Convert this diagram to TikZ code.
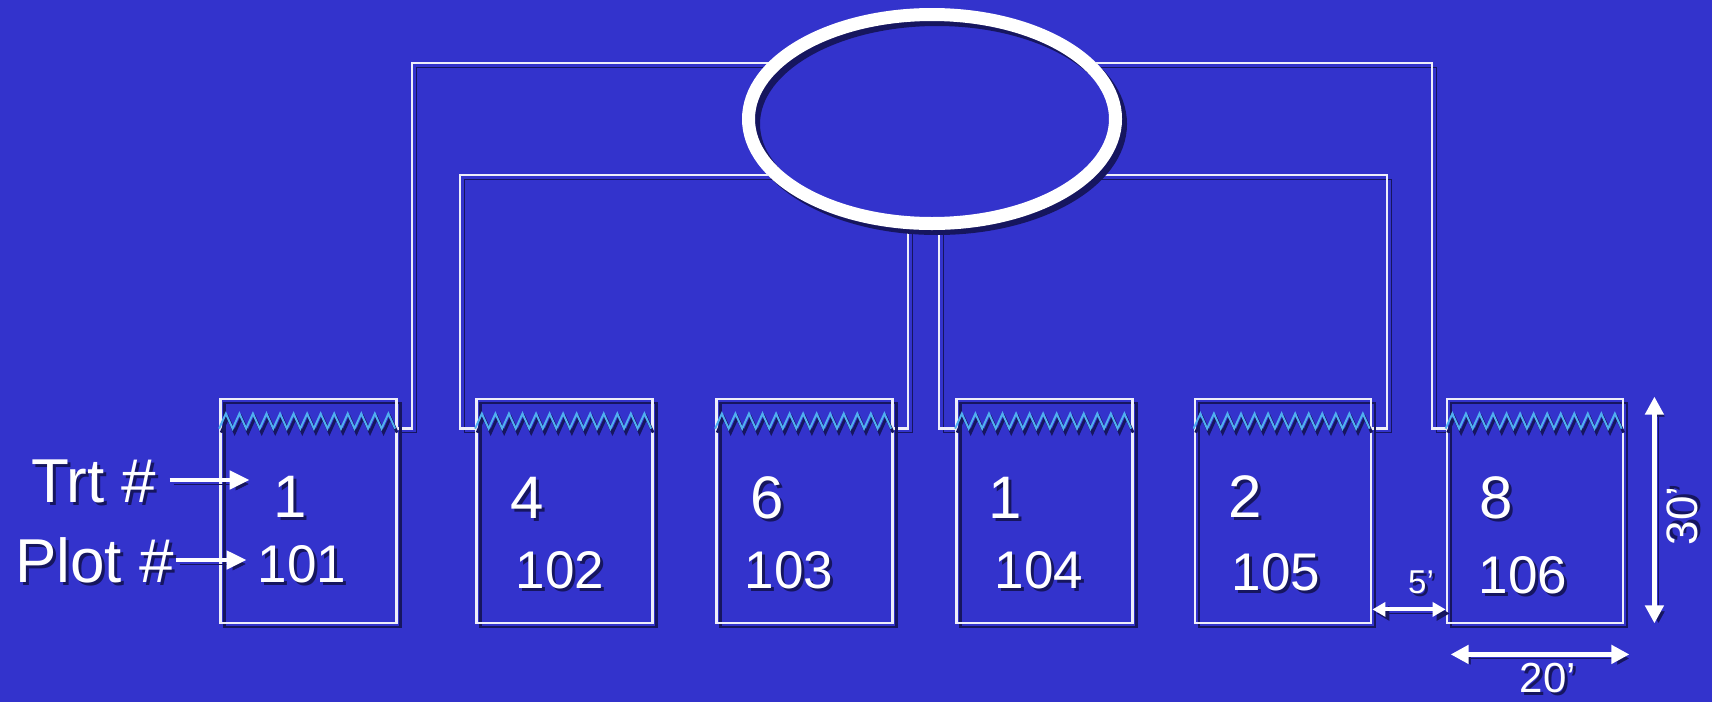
\documentclass[tikz,border=0pt]{standalone}
\usepackage{fontspec}
\setmainfont{Liberation Sans}
\usetikzlibrary{shapes.geometric,arrows.meta,calc}
\pgfdeclarelayer{back}
\pgfsetlayers{back,main}
\definecolor{bg}{RGB}{51,51,204}
\definecolor{shc}{RGB}{22,22,95}
\definecolor{ln}{RGB}{238,238,250}
\definecolor{zz}{RGB}{80,175,240}
\newcommand\shtxt[1]{\makebox[0pt][l]{\hspace{3pt}\raisebox{-3pt}{\textcolor{shc}{#1}}}#1}
\begin{document}
\begin{tikzpicture}[x=1pt,y=-1pt,
 shad/.style={preaction={draw=shc,transform canvas={xshift=4pt,yshift=-4pt}}},
 conn/.style={draw=ln,line width=2.8pt,shad},
 plotbox/.style={rectangle,draw=ln,line width=2.8pt,minimum width=176pt,minimum height=224pt,inner sep=0pt,shad},
 zig/.style={draw=zz,line width=2pt,preaction={draw=shc,line width=2.8pt,transform canvas={xshift=2pt,yshift=-4pt}}},
 trtn/.style={text=white,font=\fontsize{60}{60}\selectfont,anchor=base,inner sep=0pt},
 pnum/.style={text=white,font=\fontsize{53}{53}\selectfont,anchor=base,inner sep=0pt},
 lab/.style={text=white,anchor=base west,inner sep=0pt},
 dimlab/.style={text=white,font=\fontsize{44}{44}\selectfont,anchor=base,inner sep=0pt},
 arr/.style={draw=white,line width=4.5pt,-{Triangle[length=20pt,width=18pt]},shad},
 darr/.style={draw=white,line width=4.5pt,{Triangle[length=18pt,width=18pt]}-{Triangle[length=18pt,width=18pt]},shad},
 darrs/.style={draw=white,line width=4pt,{Triangle[length=13pt,width=14pt]}-{Triangle[length=13pt,width=14pt]},shad},
]
\useasboundingbox (0,0) rectangle (1712,702);
\begin{pgfonlayer}{back}
\fill[bg] (0,0) rectangle (1712,702);
\end{pgfonlayer}

% plots
\node[plotbox] (b1) at (308.5,511) {};
\node[plotbox] (b2) at (564.5,511) {};
\node[plotbox] (b3) at (804.5,511) {};
\node[plotbox] (b4) at (1044.5,511) {};
\node[plotbox] (b5) at (1283,511) {};
\node[plotbox] (b6) at (1535,511) {};

\foreach \b in {b1,b2,b3,b4,b5,b6}{
  \draw[zig] ($(\b.north west)+(0,31)$) \foreach \k in {1,...,13}{ -- ++(6.77,-15) -- ++(6.77,15)};
}

% ellipse
\node[ellipse,minimum width=367pt,minimum height=209pt,inner sep=0pt,line width=13pt,
  preaction={fill=bg},
  preaction={draw=shc,transform canvas={xshift=5pt,yshift=-5pt}},
  draw=white] (ell) at (932,119) {};

% connection points
\coordinate (c1) at ($(b1.north east)+(0,31)$);
\coordinate (c2) at ($(b2.north west)+(0,31)$);
\coordinate (c3) at ($(b3.north east)+(0,31)$);
\coordinate (c4) at ($(b4.north west)+(0,31)$);
\coordinate (c5) at ($(b5.north east)+(0,31)$);
\coordinate (c6) at ($(b6.north west)+(0,31)$);
\coordinate (k1) at (412,63);
\coordinate (k2) at (460,175);
\coordinate (k3) at (908,119);
\coordinate (k4) at (939,119);
\coordinate (k5) at (1387,175);
\coordinate (k6) at (1432,63);

\begin{pgfonlayer}{back}
\draw[conn] (c1) -| (k1) -- (k1 -| ell.center);
\draw[conn] (c2) -| (k2) -- (k2 -| ell.center);
\draw[conn] (c3) -| (k3);
\draw[conn] (c4) -| (k4);
\draw[conn] (c5) -| (k5) -- (k5 -| ell.center);
\draw[conn] (c6) -| (k6) -- (k6 -| ell.center);
\end{pgfonlayer}

% labels
\node[lab,font=\fontsize{62}{62}\selectfont] (trtl) at (31,502) {\shtxt{Trt \#}};
\node[lab,font=\fontsize{62}{62}\selectfont] (plotl) at (15,582) {\shtxt{Plot \#}};

\node[trtn] (t1) at (290.5,517) {\shtxt{1}};
\node[trtn] (t2) at (527,518) {\shtxt{4}};
\node[trtn] (t3) at (767.5,518) {\shtxt{6}};
\node[trtn] (t4) at (1005,518) {\shtxt{1}};
\node[trtn] (t5) at (1245,517) {\shtxt{2}};
\node[trtn] (t6) at (1496,518) {\shtxt{8}};

\node[pnum] (p1) at (302,582) {\shtxt{101}};
\node[pnum] (p2) at (560,588) {\shtxt{102}};
\node[pnum] (p3) at (789,588) {\shtxt{103}};
\node[pnum] (p4) at (1039,588) {\shtxt{104}};
\node[pnum] (p5) at (1276,590) {\shtxt{105}};
\node[pnum] (p6) at (1523,593) {\shtxt{106}};

\coordinate (a1) at ($(trtl.base east)+(13,-22)$);
\coordinate (a2) at ($(plotl.base east)+(2,-22)$);
\draw[arr] (a1) -- ($(a1 -| t1.west)+(-24,0)$);
\draw[arr] (a2) -- ($(a2 -| p1.west)+(-11,0)$);

% dimensions
\draw[darrs] ($(b5.south east)+(0,-15)$) -- ($(b6.south west)+(0,-15)$);
\draw[darr] ($(b6.north east)+(30,-1)$) -- ($(b6.south east)+(30,-1)$);
\draw[darr] ($(b6.south west)+(5,30)$) -- ($(b6.south east)+(5,30)$);
\node[dimlab,font=\fontsize{33}{33}\selectfont] (d5) at (1421,593) {\shtxt{5’}};
\node[dimlab,rotate=90] (d30) at (1697,516) {\shtxt{30’}};
\node[dimlab,font=\fontsize{42}{42}\selectfont] (d20) at (1548,692) {\shtxt{20’}};
\end{tikzpicture}
\end{document}
